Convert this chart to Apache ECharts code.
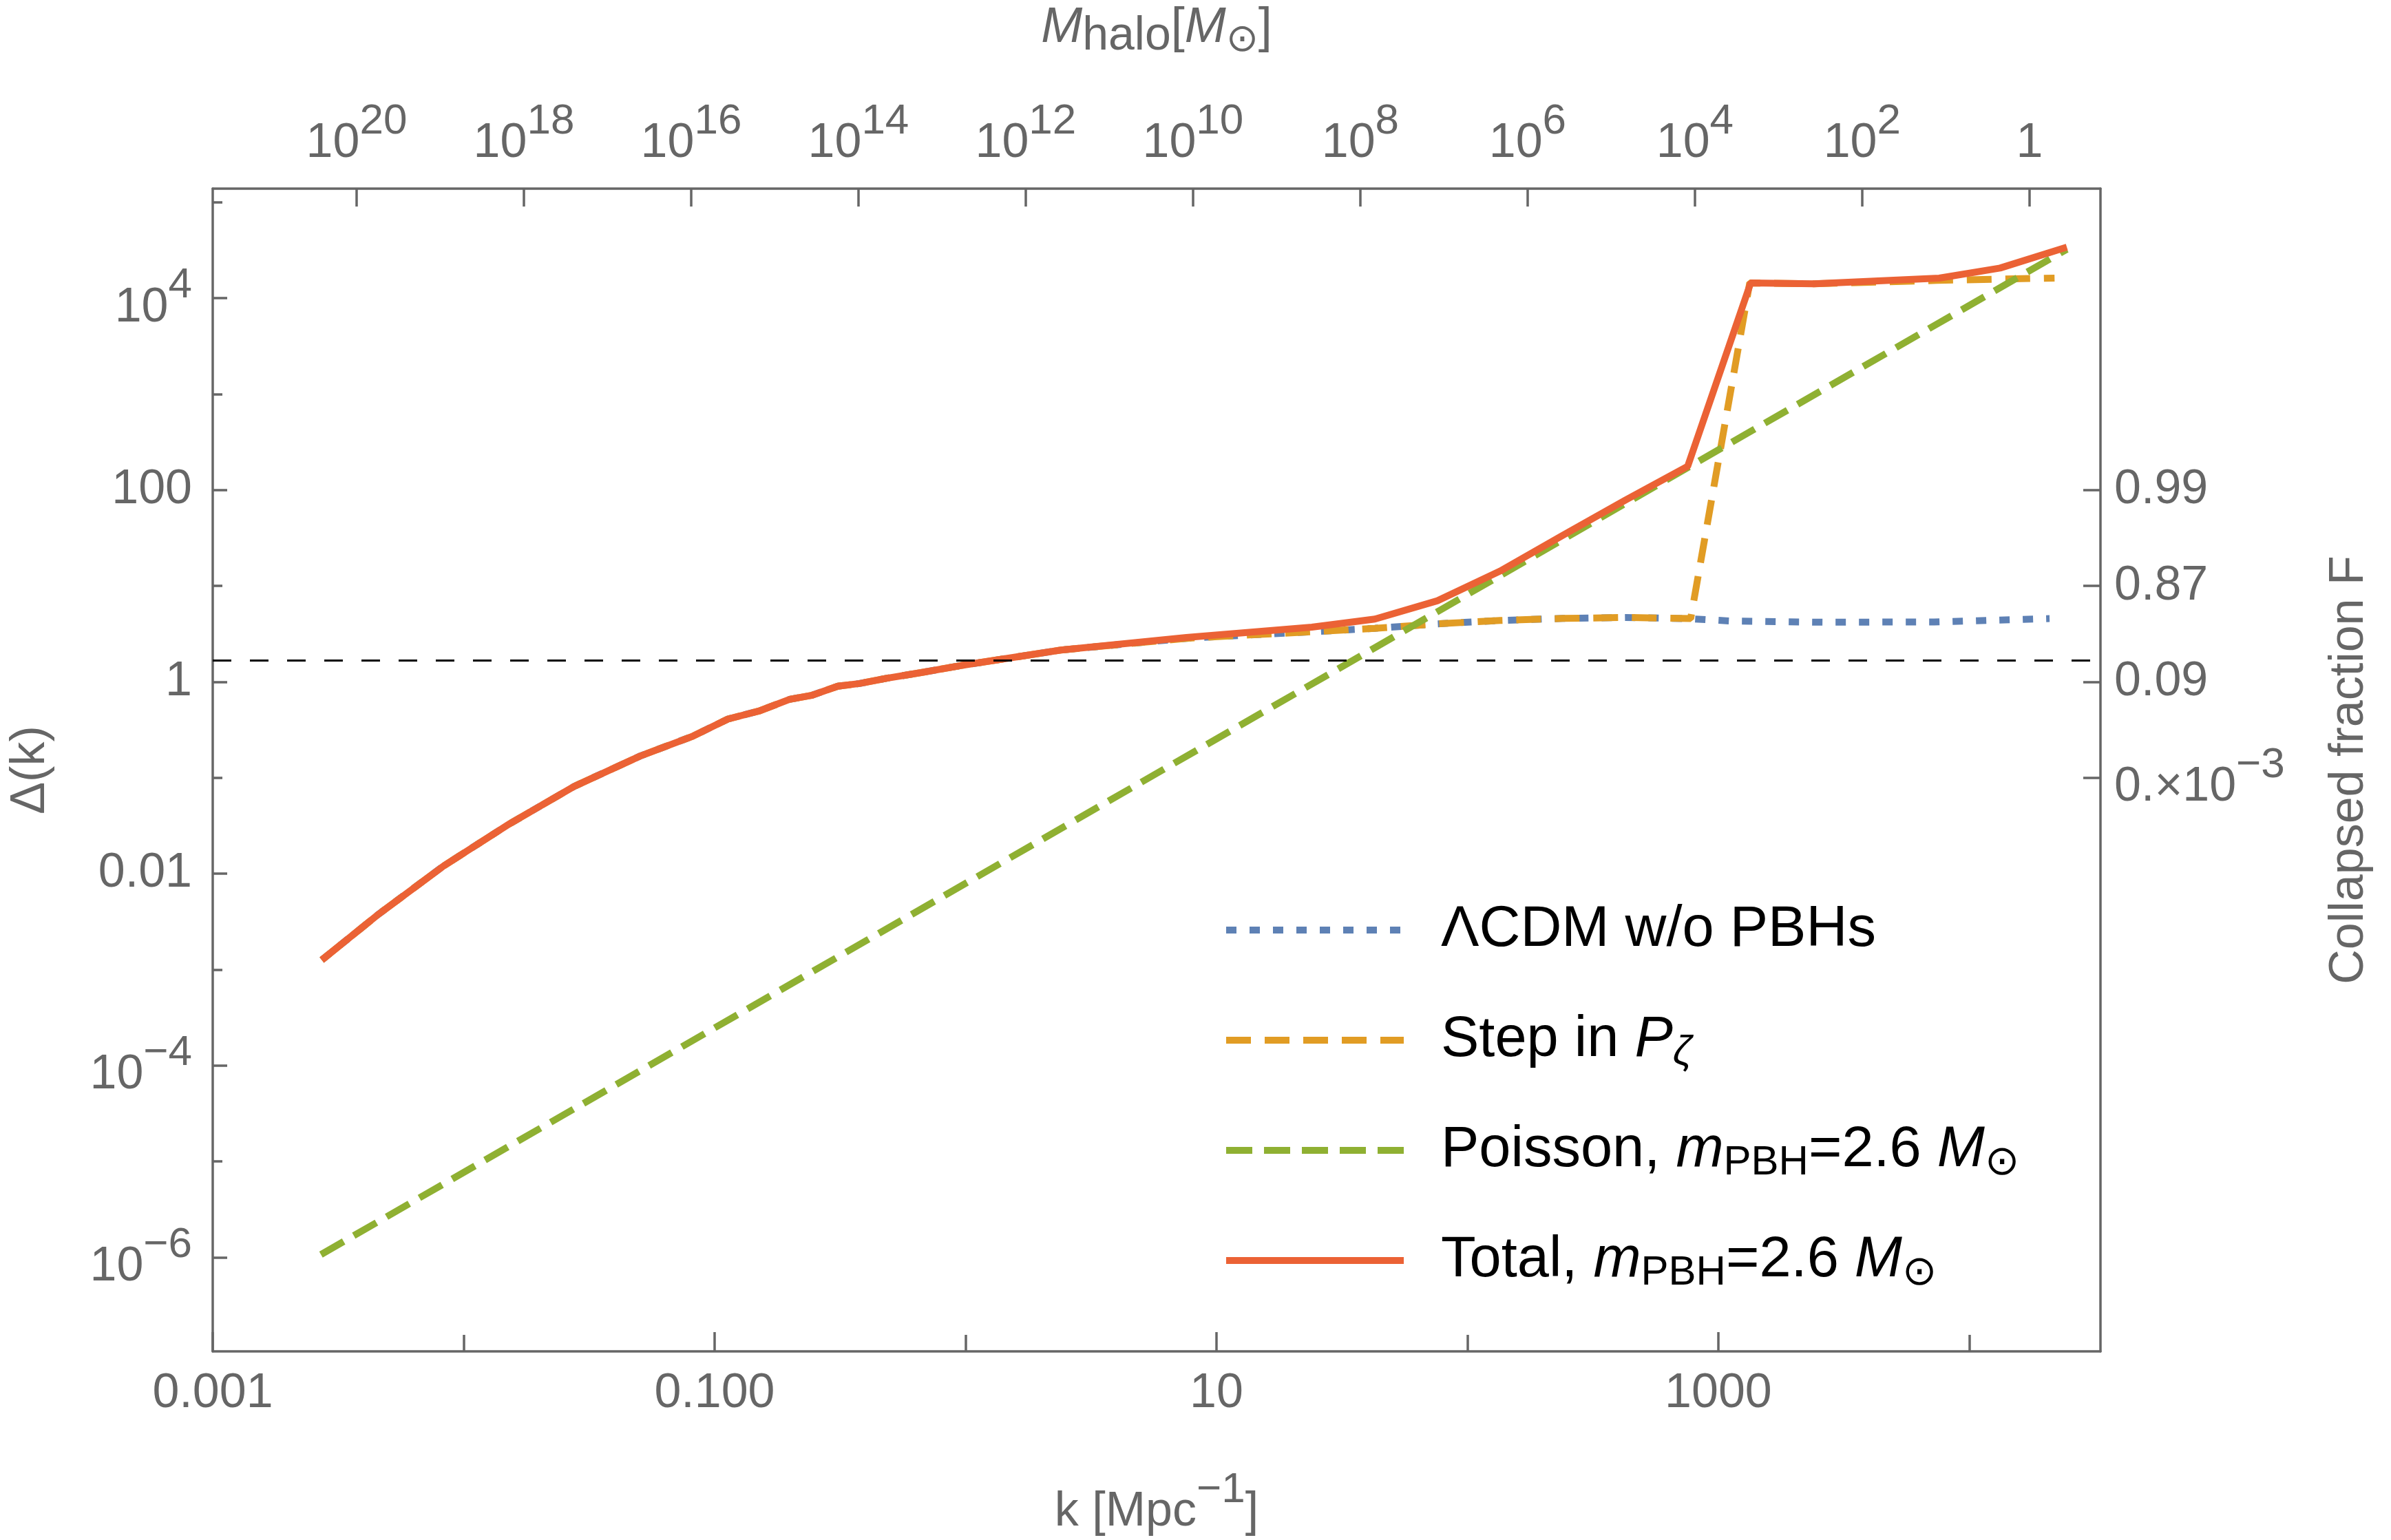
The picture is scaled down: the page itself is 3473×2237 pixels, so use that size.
<!DOCTYPE html>
<html>
<head>
<meta charset="utf-8">
<script src="https://cdn.jsdelivr.net/npm/echarts@6/dist/echarts.min.js"></script>
<style>
html, body { margin: 0; padding: 0; background: #fff; }
#main { width: 3473px; height: 2237px; }
</style>
</head>
<body>
<div id="main"></div>
<script>
// values: k [Mpc^-1] and Delta(k)
var kTotal = [0.00272, 0.00460, 0.00826, 0.0151, 0.0277, 0.0506, 0.0820, 0.113, 0.150, 0.199, 0.243, 0.310, 0.378, 0.483, 0.665, 0.957, 2.40,
              7.59, 24.0, 42.8, 76.0, 135, 240, 428, 755, 1346, 2404, 7590, 13270, 24490];
var deltaTotal = [0.00126, 0.00382, 0.0119, 0.0327, 0.0819, 0.169, 0.272, 0.410, 0.496, 0.658, 0.723, 0.902, 0.962, 1.09, 1.25, 1.48, 2.15,
                  2.91, 3.72, 4.52, 7.02, 14.3, 33.7, 78.9, 177, 14450, 14130, 16220, 20650, 34120];

var kLcdm = [0.00272, 0.00460, 0.00826, 0.0151, 0.0277, 0.0506, 0.0820, 0.113, 0.150, 0.199, 0.243, 0.310, 0.378, 0.483, 0.665, 0.957, 2.40,
             7.59, 13.5, 24.0, 42.8, 76.0, 135, 240, 428, 759, 1122, 2630, 7244, 20900];
var deltaLcdm = [0.00126, 0.00382, 0.0119, 0.0327, 0.0819, 0.169, 0.272, 0.410, 0.496, 0.658, 0.723, 0.902, 0.962, 1.09, 1.25, 1.48, 2.15,
                 2.85, 3.09, 3.33, 3.62, 4.03, 4.37, 4.59, 4.70, 4.57, 4.31, 4.19, 4.22, 4.57];

var kStep = [0.00272, 0.00460, 0.00826, 0.0151, 0.0277, 0.0506, 0.0820, 0.113, 0.150, 0.199, 0.243, 0.310, 0.378, 0.483, 0.665, 0.957, 2.40,
             7.59, 13.5, 24.0, 42.8, 76.0, 135, 240, 428, 776, 1334, 2404, 7447, 13300, 21880];
var deltaStep = [0.00126, 0.00382, 0.0119, 0.0327, 0.0819, 0.169, 0.272, 0.410, 0.496, 0.658, 0.723, 0.902, 0.962, 1.09, 1.25, 1.48, 2.15,
                 2.85, 3.09, 3.33, 3.62, 4.03, 4.37, 4.59, 4.70, 4.57, 14450, 14130, 15350, 15850, 16220];

var kPoisson = [0.00270, 24490];
var deltaPoisson = [1.07e-6, 32400];

var deltaCrit = 1.686;

// ticks
var kTicksLabeled = [0.001, 0.1, 10, 1000];
var kTicksMinor = [0.01, 1, 100, 10000];
var deltaTicksLabeled = [1e-6, 1e-4, 0.01, 1, 100, 1e4];
var deltaTicksMinor = [1e-5, 1e-3, 0.1, 10, 1000, 1e5];
var massTicks = [1, 1e2, 1e4, 1e6, 1e8, 1e10, 1e12, 1e14, 1e16, 1e18, 1e20];
var fractionTicks = [0.1, 1, 10, 100];
var fractionLabels = ['0.×10', '0.09', '0.87', '0.99'];

// axis extents
var kMin = 0.001, kMax = Math.pow(10, 4.523);
var dMin = Math.pow(10, -6.98), dMax = Math.pow(10, 5.143);
var mMin = Math.pow(10, -0.849), mMax = Math.pow(10, 21.72);

var font = "'Liberation Sans', Arial, Helvetica, sans-serif";
var grey = '#666666';

function toPairs(xs, ys) {
    var out = [];
    for (var i = 0; i < xs.length; i++) out.push([xs[i], ys[i]]);
    return out;
}
function expOf(v) { return Math.round(Math.log(v) / Math.LN10); }
function supText(base, e) { return '{b|' + base + '}{sup|' + e + '}'; }
function signed(e) { return e < 0 ? '\u2212' + (-e) : '' + e; }

var richTick = {
    b: { fontSize: 70, lineHeight: 70, verticalAlign: 'bottom', color: grey, fontFamily: font },
    sup: { fontSize: 62, lineHeight: 98, verticalAlign: 'top', color: grey, fontFamily: font }
};

var axisLine = { show: true, lineStyle: { color: grey, width: 3.5 } };

var chart = echarts.init(document.getElementById('main'));

var option = {
    animation: false,
    backgroundColor: '#fff',
    grid: { left: 309, right: 422, top: 274, bottom: 269 },
    legend: {
        orient: 'vertical',
        left: 1776,
        top: 1303,
        padding: 0,
        itemWidth: 258,
        itemHeight: 4,
        itemGap: 64,
        selectedMode: false,
        itemStyle: { opacity: 0 },
        lineStyle: { width: 10 },
        textStyle: {
            fontSize: 83, lineHeight: 96, color: '#000', fontFamily: font,
            padding: [0, 0, 0, 49],
            rich: {
                i: { fontSize: 83, fontStyle: 'italic', color: '#000', fontFamily: font },
                s: { fontSize: 60, lineHeight: 96, verticalAlign: 'bottom', color: '#000', fontFamily: font },
                si: { fontSize: 60, lineHeight: 96, verticalAlign: 'bottom', fontStyle: 'italic', color: '#000', fontFamily: font }
            }
        },
        formatter: function (name) {
            if (name === 'Step') return 'Step in {i|P}{si|\u03B6}';
            if (name === 'Poisson') return 'Poisson, {i|m}{s|PBH}=2.6 {i|M}{s|\u2299}';
            if (name === 'Total') return 'Total, {i|m}{s|PBH}=2.6 {i|M}{s|\u2299}';
            return '\u039BCDM w/o PBHs';
        },
        data: ['LCDM', 'Step', 'Poisson', 'Total']
    },
    xAxis: [
        {
            type: 'log', position: 'bottom', min: kMin, max: kMax,
            axisLine: axisLine,
            splitLine: { show: false },
            axisTick: { inside: true, length: 28, customValues: kTicksLabeled, lineStyle: { color: grey, width: 3.5 } },
            axisLabel: {
                customValues: kTicksLabeled, margin: 27, fontSize: 70, color: grey, fontFamily: font,
                formatter: function (v) {
                    var e = expOf(v);
                    return { '-3': '0.001', '-1': '0.100', '1': '10', '3': '1000' }[e];
                }
            },
            name: '{b|k [Mpc}{sup|\u22121}{b|]}',
            nameLocation: 'middle',
            nameGap: 171,
            nameTextStyle: { rich: richTick }
        },
        {
            type: 'log', position: 'top', inverse: true, min: mMin, max: mMax,
            axisLine: axisLine,
            splitLine: { show: false },
            axisTick: { inside: true, length: 26, customValues: massTicks, lineStyle: { color: grey, width: 3.5 } },
            axisLabel: {
                customValues: massTicks, margin: 30, color: grey, fontFamily: font, rich: richTick,
                formatter: function (v) {
                    var e = expOf(v);
                    return e === 0 ? '{b|1}' : supText('10', e);
                }
            },
            name: '{it|M}{sub|halo}{n|[}{it|M}{sub2|\u2299}{n|]}',
            nameLocation: 'middle',
            nameGap: 187,
            nameTextStyle: {
                rich: {
                    it: { fontSize: 72, fontStyle: 'italic', color: grey, fontFamily: font },
                    n: { fontSize: 72, color: grey, fontFamily: font },
                    sub: { fontSize: 68, lineHeight: 92, verticalAlign: 'bottom', color: grey, fontFamily: font },
                    sub2: { fontSize: 56, verticalAlign: 'top', padding: [36, 0, 0, 0], color: grey, fontFamily: font }
                }
            }
        },
        {
            type: 'log', position: 'bottom', min: kMin, max: kMax,
            axisLine: { show: false },
            splitLine: { show: false },
            axisTick: { inside: true, length: 24, customValues: kTicksMinor, lineStyle: { color: grey, width: 3.5 } },
            axisLabel: { show: false }
        }
    ],
    yAxis: [
        {
            type: 'log', position: 'left', min: dMin, max: dMax,
            axisLine: axisLine,
            splitLine: { show: false },
            axisTick: { inside: true, length: 21, customValues: deltaTicksLabeled, lineStyle: { color: grey, width: 3.5 } },
            axisLabel: {
                customValues: deltaTicksLabeled, margin: 30, color: grey, fontFamily: font, rich: richTick,
                formatter: function (v) {
                    var e = expOf(v);
                    if (e === 0) return '{b|1}';
                    if (e === 2) return '{b|100}';
                    if (e === -2) return '{b|0.01}';
                    return supText('10', signed(e));
                }
            },
            name: '\u0394(k)',
            nameLocation: 'middle',
            nameRotate: 90,
            nameGap: 229,
            nameTextStyle: { fontSize: 70, color: grey, fontFamily: font }
        },
        {
            type: 'log', position: 'right', min: dMin, max: dMax,
            axisLine: axisLine,
            splitLine: { show: false },
            axisTick: { inside: true, length: 25, customValues: fractionTicks, lineStyle: { color: grey, width: 3.5 } },
            axisLabel: {
                customValues: fractionTicks, margin: 20, color: grey, fontFamily: font, rich: richTick,
                formatter: function (v) {
                    var e = expOf(v);
                    var idx = fractionTicks.map(expOf).indexOf(e);
                    if (idx === 0) return supText(fractionLabels[0], '\u22123');
                    return '{b|' + fractionLabels[idx] + '}';
                }
            },
            name: 'Collapsed fraction F',
            nameLocation: 'middle',
            nameRotate: 90,
            nameGap: 327,
            nameTextStyle: { fontSize: 70, color: grey, fontFamily: font }
        },
        {
            type: 'log', position: 'left', min: dMin, max: dMax,
            axisLine: { show: false },
            splitLine: { show: false },
            axisTick: { inside: true, length: 14, customValues: deltaTicksMinor, lineStyle: { color: grey, width: 3.5 } },
            axisLabel: { show: false }
        }
    ],
    series: [
        {
            name: 'LCDM', type: 'line', symbol: 'none', xAxisIndex: 0, yAxisIndex: 0,
            data: toPairs(kLcdm, deltaLcdm),
            lineStyle: { color: '#5E81B5', width: 10, type: [15, 19] },
            itemStyle: { color: '#5E81B5' },
            markLine: {
                silent: true, symbol: 'none', label: { show: false },
                lineStyle: { color: '#000', width: 3, type: [27, 27] },
                data: [{ yAxis: deltaCrit }]
            }
        },
        {
            name: 'Step', type: 'line', symbol: 'none', xAxisIndex: 0, yAxisIndex: 0,
            data: toPairs(kStep, deltaStep),
            lineStyle: { color: '#E19C24', width: 10, type: [36, 20] },
            itemStyle: { color: '#E19C24' }
        },
        {
            name: 'Poisson', type: 'line', symbol: 'none', xAxisIndex: 0, yAxisIndex: 0,
            data: toPairs(kPoisson, deltaPoisson),
            lineStyle: { color: '#8FB032', width: 10, type: [38, 17] },
            itemStyle: { color: '#8FB032' }
        },
        {
            name: 'Total', type: 'line', symbol: 'none', xAxisIndex: 0, yAxisIndex: 0,
            data: toPairs(kTotal, deltaTotal),
            lineStyle: { color: '#EB6235', width: 10 },
            itemStyle: { color: '#EB6235' }
        }
    ]
};
chart.setOption(option);
</script>
</body>
</html>
